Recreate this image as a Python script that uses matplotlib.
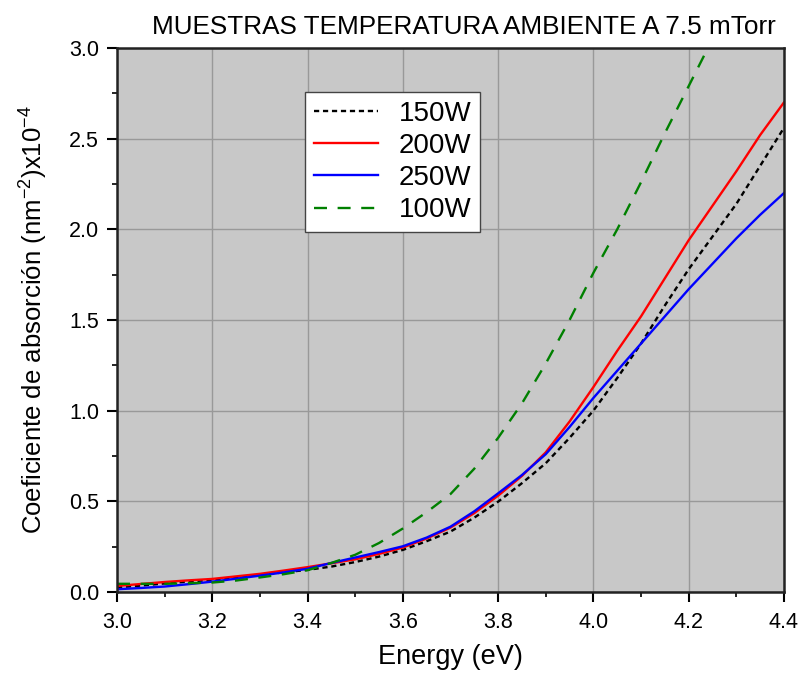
import matplotlib
matplotlib.use('Agg')
import matplotlib.pyplot as plt
from matplotlib.ticker import MultipleLocator

plt.rcParams['font.family'] = ['Liberation Sans', 'DejaVu Sans']
plt.rcParams['mathtext.fontset'] = 'custom'
plt.rcParams['mathtext.rm'] = 'Liberation Sans'
plt.rcParams['axes.unicode_minus'] = False

# energy (eV)
energy = [3.00, 3.05, 3.10, 3.15, 3.20, 3.25, 3.30, 3.35, 3.40, 3.45, 3.50, 3.55, 3.60,
          3.65, 3.70, 3.75, 3.80, 3.85, 3.90, 3.95, 4.00, 4.05, 4.10, 4.15, 4.20, 4.25,
          4.30, 4.35, 4.40]

w150 = [0.025, 0.035, 0.047, 0.057, 0.067, 0.080, 0.095, 0.108, 0.122, 0.140, 0.165, 0.195, 0.232,
        0.280, 0.333, 0.410, 0.498, 0.600, 0.710, 0.850, 1.000, 1.180, 1.370, 1.580, 1.780, 1.960,
        2.140, 2.350, 2.560]
w200 = [0.033, 0.044, 0.055, 0.064, 0.072, 0.086, 0.100, 0.118, 0.137, 0.158, 0.180, 0.210, 0.245,
        0.295, 0.355, 0.435, 0.531, 0.640, 0.770, 0.940, 1.130, 1.330, 1.520, 1.730, 1.940, 2.130,
        2.320, 2.520, 2.700]
w250 = [0.015, 0.022, 0.030, 0.043, 0.057, 0.073, 0.090, 0.108, 0.128, 0.160, 0.190, 0.220, 0.252,
        0.300, 0.360, 0.445, 0.544, 0.645, 0.760, 0.910, 1.070, 1.220, 1.370, 1.520, 1.670, 1.810,
        1.950, 2.080, 2.200]

energy_100 = [3.00, 3.05, 3.10, 3.15, 3.20, 3.25, 3.30, 3.35, 3.40, 3.45, 3.50, 3.55, 3.60,
              3.65, 3.70, 3.75, 3.80, 3.85, 3.90, 3.95, 4.00, 4.05, 4.10, 4.15, 4.20, 4.25]
w100 = [0.045, 0.045, 0.045, 0.048, 0.052, 0.063, 0.080, 0.098, 0.120, 0.160, 0.205, 0.270, 0.350,
        0.440, 0.540, 0.680, 0.850, 1.040, 1.260, 1.500, 1.760, 2.000, 2.260, 2.530, 2.790, 3.050]

fig = plt.figure(figsize=(8.03, 6.77), dpi=100)
ax = fig.add_axes([0.1457, 0.1256, 0.8306, 0.8035])
ax.set_facecolor('#c8c8c8')

ax.plot(energy, w150, color='black', lw=1.7, linestyle=(0, (2.2, 1.6)), label='150W')
ax.plot(energy, w200, color='#ff0000', lw=1.7, label='200W')
ax.plot(energy, w250, color='#0000ff', lw=1.7, label='250W')
ax.plot(energy_100, w100, color='#008000', lw=1.7, linestyle=(0, (5.5, 4.5)), label='100W')

ax.set_xlim(3.0, 4.4)
ax.set_ylim(0, 3.0)
ax.xaxis.set_major_locator(MultipleLocator(0.2))
ax.xaxis.set_minor_locator(MultipleLocator(0.1))
ax.yaxis.set_major_locator(MultipleLocator(0.5))
ax.yaxis.set_minor_locator(MultipleLocator(0.25))
ax.grid(True, which='major', color='#999999', lw=1.0)
ax.set_axisbelow(True)

ax.tick_params(which='major', direction='out', length=7, width=1.5, labelsize=15.5,
               top=False, right=False)
ax.tick_params(which='minor', direction='out', length=3.5, width=1.2, top=False, right=False)
ax.tick_params(axis='x', which='major', pad=7.5)
ax.tick_params(axis='y', which='major', pad=6)
for s in ax.spines.values():
    s.set_linewidth(1.8)
    s.set_color('#222222')

ax.set_xlabel('Energy (eV)', fontsize=19.5, labelpad=8)
ax.set_ylabel('Coeficiente de absorción (nm$^{\\mathregular{-2}}$)x10$^{\\mathregular{-4}}$',
              fontsize=18.5, labelpad=14)
ax.set_title('MUESTRAS TEMPERATURA AMBIENTE A 7.5 mTorr', fontsize=18.8, pad=10, x=0.52)

leg = ax.legend(loc='upper left', bbox_to_anchor=(0.282, 0.919), fontsize=20, frameon=True,
                fancybox=False, framealpha=1, edgecolor='#444444', handlelength=2.3,
                labelspacing=0.22, borderpad=0.32, handletextpad=0.75, borderaxespad=0)
leg.get_frame().set_linewidth(1.0)

plt.savefig('out.png', dpi=100)
